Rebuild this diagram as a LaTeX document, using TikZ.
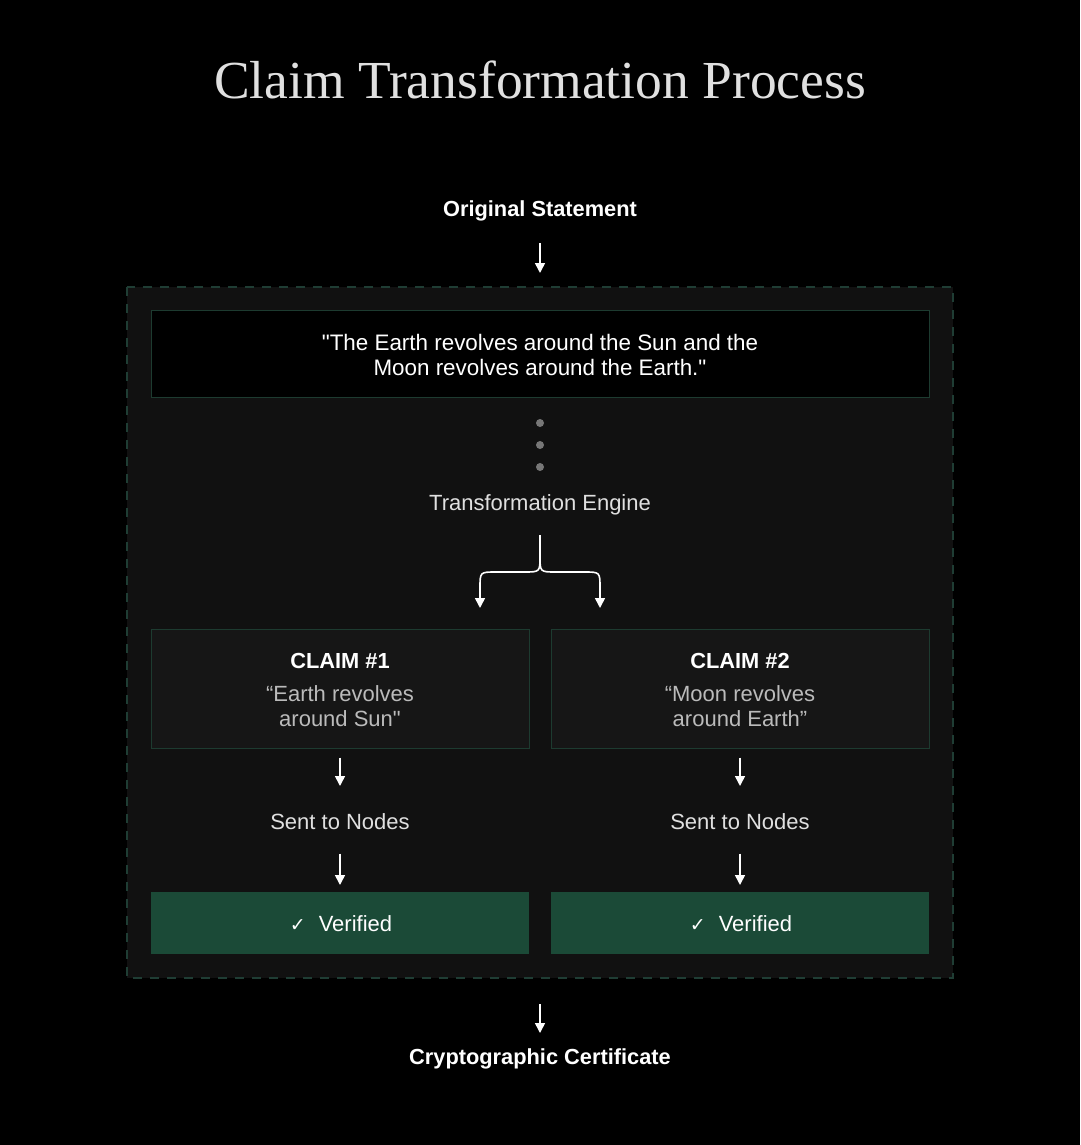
\documentclass[tikz,border=0pt]{standalone}
\usepackage{fontspec}
\setmainfont{Liberation Sans}
\newfontfamily\titlefont{Liberation Serif}
\newfontfamily\symfont{DejaVu Sans}
\usetikzlibrary{arrows.meta}
\definecolor{panel}{HTML}{111111}
\definecolor{boxfill}{HTML}{161616}
\definecolor{edge}{HTML}{1D3B30}
\definecolor{dashc}{HTML}{1F3D34}
\definecolor{okfill}{HTML}{1B4A37}
\definecolor{quote}{HTML}{BBBBBB}
\definecolor{soft}{HTML}{E0E0E0}
\definecolor{dotc}{HTML}{777777}
\begin{document}
\begin{tikzpicture}[x=1pt,y=-1pt,
  arr/.style={draw=white,line width=1.6pt,-{Triangle[width=10pt,length=10pt]}},
  label/.style={text=soft,font=\fontsize{22}{25}\selectfont},
  boldlabel/.style={text=white,font=\fontsize{21.8}{25}\selectfont\bfseries},
  claimbox/.style={draw=edge,line width=1pt,fill=boxfill,minimum width=378pt,minimum height=119pt,inner sep=0pt},
  okbox/.style={fill=okfill,minimum width=378pt,minimum height=62pt,inner sep=0pt},
  dotn/.style={circle,fill=dotc,inner sep=0pt,minimum size=8pt}]
\fill[black] (0,0) rectangle (1080,1145);
\useasboundingbox (0,0) rectangle (1080,1145);
\node[text=soft,font=\titlefont\fontsize{53.5}{60}\selectfont] (title) at (540,80) {Claim Transformation Process};
\node[boldlabel] (orig) at (540,211) {Original Statement};
% panel
\draw[dashc,fill=panel,dash pattern=on 9pt off 8pt,line width=1.5pt] (127,287) rectangle (953,978);
\node[draw=edge,line width=1pt,fill=black,minimum width=778pt,minimum height=87pt,inner sep=0pt] (stmtbox) at (540,353.5) {};
\node[text=white,align=center,font=\fontsize{22.4}{25}\selectfont] (stmt) at (540,355) {\textquotedbl The Earth revolves around the Sun and the\\Moon revolves around the Earth.\textquotedbl};
\node[dotn] (d1) at (540,423) {};
\node[dotn] (d2) at (540,445) {};
\node[dotn] (d3) at (540,467) {};
\node[label] (engine) at (540,505) {Transformation Engine};
\coordinate (bt) at (540,535);
\coordinate (bl) at (480,608);
\coordinate (br) at (600,608);
\draw[arr] (bt) -- (540,556) .. controls (540,572) .. (524,572) -- (496,572) .. controls (480,572) .. (480,588) -- (bl);
\draw[arr] (bt) -- (540,556) .. controls (540,572) .. (556,572) -- (584,572) .. controls (600,572) .. (600,588) -- (br);
% claims
\node[claimbox] (c1) at (340,688.5) {};
\node[claimbox] (c2) at (740,688.5) {};
\node[boldlabel] (c1t) at (340,661) {CLAIM \#1};
\node[boldlabel] (c2t) at (740,661) {CLAIM \#2};
\node[text=quote,align=center,font=\fontsize{22}{25}\selectfont] (c1q) at (340,706) {“Earth revolves\\around Sun\textquotedbl};
\node[text=quote,align=center,font=\fontsize{22}{25}\selectfont] (c2q) at (740,706) {“Moon revolves\\around Earth”};
\node[label] (s1) at (340,822) {Sent to Nodes};
\node[label] (s2) at (740,822) {Sent to Nodes};
\node[okbox] (v1) at (340,923) {};
\node[okbox] (v2) at (740,923) {};
\node[text=white,font=\fontsize{22}{25}\selectfont] (v1t) at (341,924) {{\symfont\fontsize{19}{20}\selectfont ✓}\hspace{13pt}Verified};
\node[text=white,font=\fontsize{22}{25}\selectfont] (v2t) at (741,924) {{\symfont\fontsize{19}{20}\selectfont ✓}\hspace{13pt}Verified};
\node[boldlabel] (cert) at (540,1059) {Cryptographic Certificate};
% arrows
\coordinate (a0s) at (540,243); \coordinate (a0e) at (540,273);
\draw[arr] (a0s) -- (a0e);
\draw[arr] (c1.south) ++(0,9) -- (340,786);
\draw[arr] (c2.south) ++(0,9) -- (740,786);
\draw[arr] (s1.south) ++(0,20) -- (340,885);
\draw[arr] (s2.south) ++(0,20) -- (740,885);
\coordinate (a3s) at (540,1004); \coordinate (a3e) at (540,1033);
\draw[arr] (a3s) -- (a3e);
\end{tikzpicture}
\end{document}
